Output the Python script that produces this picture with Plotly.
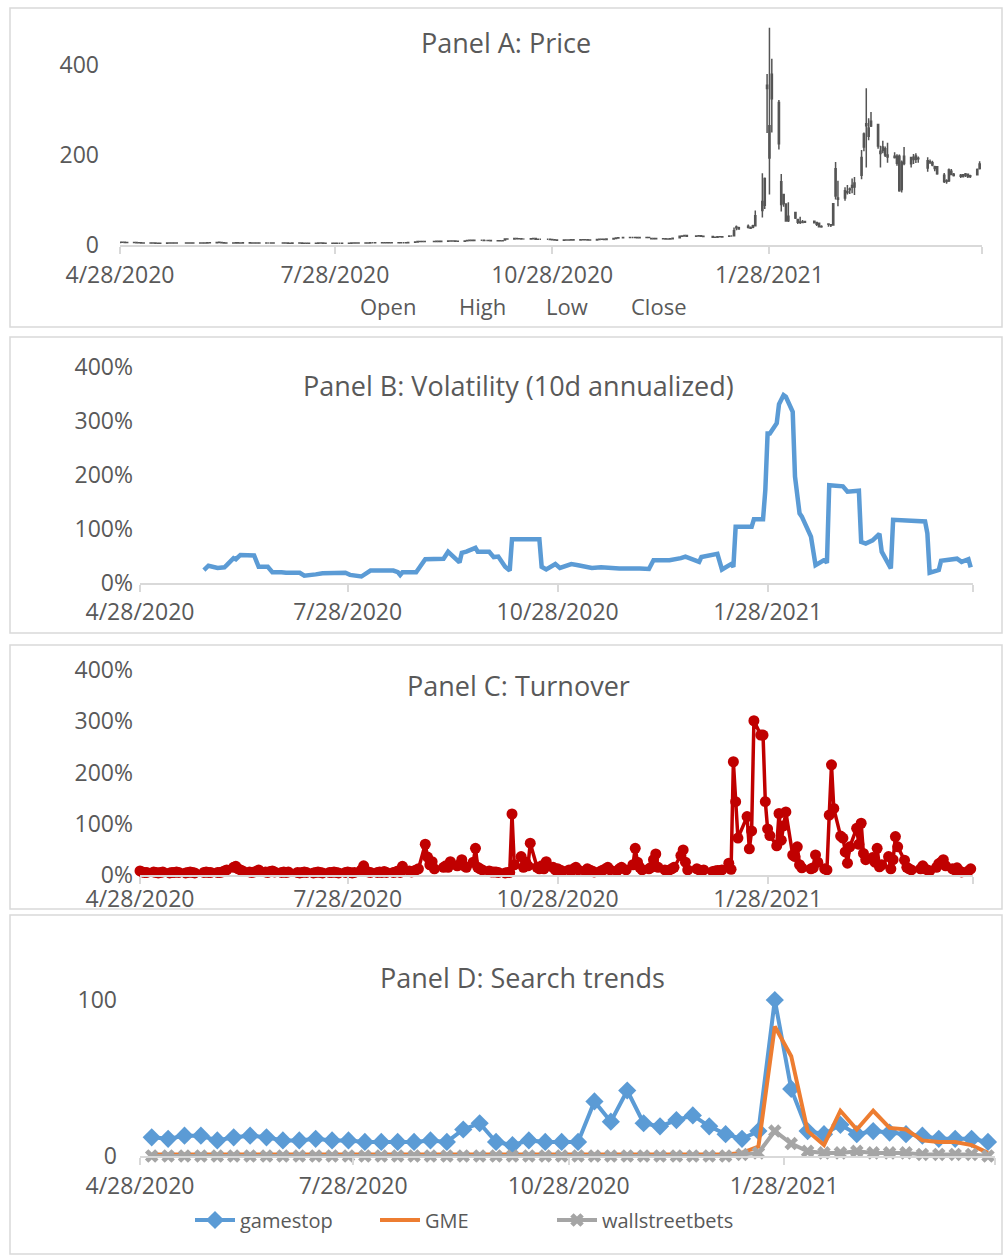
import pandas as pd
import plotly.graph_objects as go

W, H = 1005, 1257
def px(x): return x / W
def py(y): return 1 - y / H

FONT = "Open Sans"
TXT = "#595959"
GRID = "#d9d9d9"

# ---------------- trading days (Panel A / C) ----------------
holidays = ['2020-05-25', '2020-07-03', '2020-09-07', '2020-11-26', '2020-12-25',
            '2021-01-01', '2021-01-18', '2021-02-15', '2021-04-02']
trade_days = [d for d in pd.bdate_range('2020-04-28', '2021-04-27')
              if d.strftime('%Y-%m-%d') not in holidays]

# ---------------- Panel A: GME daily OHLC ----------------
close_2020 = [5.90, 5.93, 5.65,
    5.50, 5.30, 5.20, 4.91, 4.70, 4.55, 4.40, 4.30, 4.00, 4.04, 4.12, 4.36, 4.28, 4.20, 4.30, 4.26, 4.20, 4.30, 4.27, 4.22,
    4.20, 4.30, 4.45, 5.00, 5.20, 5.65, 5.90, 4.85, 4.70, 4.55, 4.58, 4.75, 4.70, 4.60, 4.80, 4.70, 4.55, 4.42, 4.35, 4.30, 4.34, 4.34,
    4.40, 4.35, 4.30, 4.20, 4.10, 4.15, 4.20, 4.30, 4.15, 4.05, 4.08, 4.10, 4.05, 4.20, 4.18, 4.10, 4.08, 4.05, 4.08, 4.12, 4.10, 4.01,
    4.10, 4.25, 4.35, 4.40, 4.45, 4.50, 4.68, 4.80, 4.80, 4.90, 5.00, 4.90, 4.85, 5.10, 5.00, 4.95, 5.05, 5.05, 5.20, 5.50, 6.68,
    7.65, 7.95, 7.80, 7.50, 7.60, 8.10, 8.00, 8.40, 8.70, 9.10, 8.90, 8.40, 8.50, 8.70, 9.96, 10.30, 10.10, 10.40, 10.40, 10.20, 10.20,
    9.90, 9.40, 9.50, 9.30, 9.35, 13.49, 13.30, 14.40, 13.80, 13.90, 13.30, 13.30, 13.70, 14.30, 13.00, 12.70, 12.70, 12.70, 12.00, 11.70, 11.00, 10.70,
    11.00, 11.30, 11.20, 11.40, 11.20, 11.50, 11.60, 11.50, 11.20, 11.00, 12.00, 12.60, 12.50, 12.30, 13.30, 14.20, 15.50, 16.20, 16.90, 16.60,
    16.60, 16.90, 16.00, 16.90, 16.60, 16.90, 13.90, 14.40, 13.70, 13.90, 13.50, 13.20, 13.70, 15.10, 19.40, 20.15, 20.99, 19.70, 20.10, 20.30, 19.38, 18.84]
open_2020 = [5.70, 5.95, 5.90,
    5.60, 5.45, 5.30, 5.15, 4.90, 4.70, 4.55, 4.40, 4.25, 4.00, 4.05, 4.15, 4.35, 4.28, 4.20, 4.30, 4.25, 4.20, 4.30, 4.27,
    4.22, 4.20, 4.30, 4.50, 5.00, 5.25, 5.70, 5.60, 4.85, 4.70, 4.55, 4.60, 4.75, 4.70, 4.60, 4.80, 4.70, 4.55, 4.42, 4.35, 4.30, 4.34,
    4.34, 4.40, 4.35, 4.30, 4.20, 4.10, 4.15, 4.20, 4.30, 4.15, 4.05, 4.08, 4.10, 4.05, 4.20, 4.18, 4.10, 4.08, 4.05, 4.08, 4.12, 4.10,
    4.01, 4.10, 4.25, 4.35, 4.40, 4.45, 4.50, 4.68, 4.80, 4.80, 4.90, 5.00, 4.90, 4.85, 5.10, 5.00, 4.95, 5.05, 5.05, 5.20, 6.00,
    6.70, 7.65, 7.95, 7.80, 7.50, 7.60, 8.10, 8.00, 8.40, 8.70, 9.10, 8.90, 8.40, 8.50, 9.20, 9.96, 10.30, 10.10, 10.40, 10.40, 10.20,
    10.20, 9.90, 9.40, 9.50, 9.30, 10.90, 13.50, 13.30, 14.40, 13.80, 13.90, 13.30, 13.30, 13.70, 14.30, 13.00, 12.70, 12.70, 12.70, 12.00, 11.70, 11.00,
    10.70, 11.00, 11.30, 11.20, 11.40, 11.20, 11.50, 11.60, 11.50, 11.20, 11.00, 12.00, 12.60, 12.50, 12.30, 13.30, 14.20, 15.50, 16.20, 16.90,
    16.60, 16.60, 16.90, 16.00, 16.90, 16.60, 14.50, 13.90, 14.40, 13.70, 13.90, 13.50, 13.20, 13.70, 16.00, 19.40, 20.15, 20.99, 19.70, 20.10, 20.30, 19.38]
high_2020 = [6.05, 6.10, 5.95,
    5.70, 5.50, 5.40, 5.20, 4.95, 4.75, 4.60, 4.45, 4.30, 4.15, 4.20, 4.45, 4.40, 4.32, 4.35, 4.38, 4.30, 4.38, 4.36, 4.32,
    4.30, 4.35, 4.55, 5.10, 5.35, 5.80, 6.00, 5.70, 4.90, 4.75, 4.70, 4.85, 4.80, 4.75, 4.85, 4.85, 4.72, 4.58, 4.48, 4.40, 4.40, 4.40,
    4.48, 4.45, 4.40, 4.35, 4.25, 4.20, 4.25, 4.35, 4.32, 4.18, 4.12, 4.15, 4.14, 4.25, 4.25, 4.20, 4.14, 4.12, 4.12, 4.18, 4.16, 4.14,
    4.18, 4.32, 4.42, 4.48, 4.52, 4.58, 4.75, 4.88, 4.88, 4.98, 5.08, 5.02, 4.95, 5.18, 5.15, 5.05, 5.12, 5.12, 5.30, 5.60, 7.00,
    7.90, 8.20, 8.10, 7.90, 7.80, 8.30, 8.30, 8.50, 8.90, 9.30, 9.20, 8.95, 8.65, 8.85, 10.20, 10.50, 10.40, 10.60, 10.70, 10.50, 10.40,
    10.40, 10.00, 9.80, 9.60, 9.60, 14.80, 14.00, 14.70, 14.50, 14.20, 13.95, 13.60, 13.90, 14.80, 14.40, 13.30, 13.00, 13.00, 12.80, 12.20, 11.80, 11.10,
    11.20, 11.50, 11.50, 11.60, 11.50, 11.80, 11.90, 11.80, 11.60, 11.30, 12.20, 12.90, 12.80, 12.60, 13.60, 14.60, 15.90, 16.60, 17.20, 17.00,
    17.00, 17.20, 17.00, 17.10, 17.10, 17.10, 14.90, 14.70, 14.50, 14.20, 14.00, 13.70, 13.90, 15.40, 20.20, 20.60, 21.30, 21.20, 20.50, 20.60, 20.40, 19.50]
low_2020 = [5.60, 5.75, 5.55,
    5.35, 5.20, 5.10, 4.85, 4.65, 4.50, 4.35, 4.25, 3.95, 3.90, 4.00, 4.10, 4.22, 4.15, 4.15, 4.20, 4.15, 4.15, 4.20, 4.15,
    4.10, 4.15, 4.25, 4.45, 4.90, 5.15, 5.50, 4.70, 4.60, 4.45, 4.45, 4.55, 4.62, 4.55, 4.55, 4.65, 4.50, 4.38, 4.30, 4.22, 4.25, 4.25,
    4.30, 4.30, 4.25, 4.15, 4.05, 4.05, 4.10, 4.15, 4.10, 4.00, 4.00, 4.03, 4.00, 4.02, 4.12, 4.05, 4.02, 4.00, 4.02, 4.05, 4.05, 3.98,
    3.98, 4.06, 4.20, 4.30, 4.36, 4.40, 4.46, 4.62, 4.72, 4.76, 4.86, 4.86, 4.80, 4.82, 4.95, 4.90, 4.92, 4.98, 5.00, 5.15, 5.90,
    6.60, 7.40, 7.55, 7.35, 7.30, 7.50, 7.90, 7.90, 8.30, 8.60, 8.80, 8.30, 8.30, 8.40, 9.10, 9.80, 9.95, 10.00, 10.20, 10.05, 10.00,
    9.80, 9.30, 9.30, 9.20, 9.15, 10.80, 12.90, 13.10, 13.60, 13.50, 13.20, 13.10, 13.20, 13.60, 12.90, 12.60, 12.50, 12.50, 11.90, 11.50, 10.90, 10.50,
    10.50, 10.90, 11.00, 11.10, 11.10, 11.10, 11.40, 11.40, 11.10, 10.90, 10.90, 11.90, 12.30, 12.20, 12.20, 13.20, 14.10, 15.30, 16.00, 16.40,
    16.30, 16.40, 15.80, 15.90, 16.40, 16.40, 13.70, 13.60, 13.50, 13.50, 13.30, 13.00, 13.10, 13.60, 15.90, 19.20, 19.90, 19.50, 19.50, 19.80, 19.20, 18.70]

open_2021 = [19.00, 17.35, 17.34, 18.47, 18.18, 19.41, 19.96, 20.42, 38.09, 38.49, 41.55, 37.37, 39.23, 42.59, 96.73, 88.56, 354.83, 265.00, 379.71,
    316.56, 140.76, 112.01, 91.19, 54.04, 72.41, 56.61, 50.77, 50.01, 50.75, 52.66, 49.77, 48.49, 41.28, 46.69, 44.70, 44.70, 169.56, 104.54,
    104.50, 116.93, 122.51, 128.17, 128.90, 154.89, 217.71, 269.43, 241.64, 275.00, 268.03, 203.16, 217.84, 214.00, 195.73, 197.00, 197.00, 197.00, 123.50, 197.00, 180.50, 195.00, 197.50,
    193.00, 171.00, 185.00, 183.00, 174.00, 174.00, 155.00, 143.00, 143.00, 164.00, 157.00, 155.00, 152.00, 155.00, 157.00, 152.00, 156.00, 170.00]
high_2021 = [19.10, 18.08, 18.98, 19.45, 18.30, 20.65, 20.40, 38.65, 43.06, 40.75, 45.52, 41.19, 44.75, 76.76, 159.18, 150.00, 380.00, 483.00, 413.98,
    322.00, 158.00, 113.40, 91.50, 95.00, 72.66, 57.00, 62.83, 55.32, 52.75, 53.50, 50.96, 48.87, 43.97, 46.69, 46.23, 91.71, 184.68, 142.90,
    128.60, 133.20, 127.75, 147.87, 151.00, 210.87, 249.85, 348.50, 281.50, 295.50, 268.93, 220.70, 231.47, 218.88, 227.00, 206.00, 201.75, 201.00, 187.50, 218.00, 196.00, 202.00, 204.00,
    196.45, 195.00, 190.00, 187.00, 176.00, 175.00, 160.00, 146.00, 170.00, 169.00, 160.00, 158.00, 158.00, 160.00, 159.00, 156.00, 170.00, 186.00]
low_2021 = [17.15, 17.23, 17.33, 18.02, 17.08, 19.01, 19.32, 20.03, 33.05, 34.01, 36.64, 36.06, 37.00, 42.32, 61.13, 80.20, 249.00, 112.25, 250.00,
    212.00, 74.22, 85.25, 53.33, 51.09, 58.02, 46.52, 46.55, 48.22, 49.03, 49.04, 42.31, 40.65, 38.50, 40.55, 40.00, 44.70, 101.00, 86.00,
    98.60, 112.20, 113.12, 115.00, 111.00, 146.11, 208.51, 172.00, 232.60, 262.27, 214.00, 172.35, 204.00, 195.65, 182.66, 192.00, 176.00, 118.50, 116.90, 177.00, 172.00, 180.00, 182.00,
    183.00, 163.00, 180.00, 175.00, 164.00, 156.00, 138.00, 136.00, 140.00, 155.00, 152.00, 149.00, 150.00, 151.00, 149.00, 149.00, 155.00, 168.00]
close_2021 = [17.25, 17.37, 18.36, 18.08, 17.69, 19.94, 19.95, 31.40, 39.91, 35.50, 39.36, 39.12, 43.03, 65.01, 76.79, 147.98, 347.51, 193.60, 325.00,
    225.00, 90.00, 92.41, 53.50, 63.77, 60.00, 50.31, 51.20, 51.10, 52.40, 49.51, 45.94, 40.69, 40.59, 46.00, 44.97, 91.71, 108.73, 101.74,
    120.40, 118.18, 124.18, 132.35, 137.74, 194.50, 246.90, 265.00, 260.00, 264.50, 220.14, 208.17, 209.81, 200.27, 200.27, 194.49, 181.75, 120.34, 183.75, 181.00, 194.46, 189.82, 190.82,
    191.45, 186.95, 184.50, 177.97, 170.26, 158.36, 141.09, 140.99, 166.53, 156.44, 154.69, 153.00, 156.00, 158.00, 152.00, 154.00, 168.00, 180.00]

price_open = open_2020 + open_2021
price_high = high_2020 + high_2021
price_low = low_2020 + low_2021
price_close = close_2020 + close_2021

# ---------------- Panel B: 10-day annualized volatility (%) ----------------
vol_dates = ['2020-05-26', '2020-05-28', '2020-06-01', '2020-06-04', '2020-06-05', '2020-06-08', '2020-06-09', '2020-06-11',
    '2020-06-17', '2020-06-19', '2020-06-23', '2020-06-25', '2020-06-29', '2020-07-01', '2020-07-07', '2020-07-09', '2020-07-14',
    '2020-07-17', '2020-07-27', '2020-07-29', '2020-08-03', '2020-08-07', '2020-08-17', '2020-08-19', '2020-08-20', '2020-08-21',
    '2020-08-27', '2020-08-31', '2020-09-08', '2020-09-10', '2020-09-11', '2020-09-15', '2020-09-16', '2020-09-18', '2020-09-22',
    '2020-09-23', '2020-09-28', '2020-09-30', '2020-10-02', '2020-10-05', '2020-10-07', '2020-10-08', '2020-10-20', '2020-10-21',
    '2020-10-23', '2020-10-27', '2020-10-29', '2020-11-03', '2020-11-06', '2020-11-12', '2020-11-16', '2020-11-24', '2020-12-03',
    '2020-12-07', '2020-12-09', '2020-12-16', '2020-12-21', '2020-12-23', '2020-12-29', '2020-12-30', '2021-01-06', '2021-01-08',
    '2021-01-12', '2021-01-13', '2021-01-14', '2021-01-21', '2021-01-22', '2021-01-26', '2021-01-27', '2021-01-28', '2021-01-29',
    '2021-02-01', '2021-02-02', '2021-02-04', '2021-02-05', '2021-02-08', '2021-02-09', '2021-02-11', '2021-02-12', '2021-02-16',
    '2021-02-18', '2021-02-22', '2021-02-23', '2021-02-24', '2021-03-02', '2021-03-04', '2021-03-09', '2021-03-10', '2021-03-12',
    '2021-03-15', '2021-03-18', '2021-03-19', '2021-03-23', '2021-03-24', '2021-04-07', '2021-04-08', '2021-04-09', '2021-04-13',
    '2021-04-14', '2021-04-21', '2021-04-23', '2021-04-26', '2021-04-27']
vol_pct = [24, 32, 28, 29, 33, 46, 44, 52,
    51, 30, 30, 20, 20, 19, 19, 13.5, 16,
    18, 19, 15, 12, 23, 23, 20, 15, 20,
    20, 44, 45, 58, 54, 38, 56, 58, 65,
    58, 58, 48, 49, 30, 23, 81, 81, 30,
    25, 35, 28, 35, 33, 28, 29, 27, 27,
    26, 42, 42, 46, 49, 39, 48, 54, 25,
    35, 30, 104, 104, 118, 118, 172, 277, 277,
    296, 331, 348, 345, 317, 197, 129, 123, 86,
    33, 43, 37, 181, 179, 169, 171, 76, 73,
    79, 91, 58, 27, 117, 114, 92, 19, 24,
    41, 45, 39, 44, 29]

# ---------------- Panel C: daily turnover (%) ----------------
turnover_pct = ([8, 6, 5] +
    [5, 6, 5, 4, 5, 6, 4, 5, 5, 6, 5, 4, 5, 6, 5, 4, 5, 6, 5, 5] +
    [5, 5, 6, 8, 10, 15, 17, 12, 10, 8, 6, 5, 6, 7, 10, 6, 5, 7, 8, 6, 5, 6] +
    [5, 6, 5, 4, 5, 6, 5, 4, 5, 6, 5, 4, 5, 5, 6, 5, 4, 5, 6, 5, 4, 5] +
    [10, 18, 8, 6, 5, 5, 6, 5, 7, 5, 5, 6, 8, 5, 17, 8, 6, 8, 10, 12, 60] +
    [35, 20, 26, 12, 15, 18, 15, 26, 18, 20, 30, 18, 15, 25, 52, 15, 12, 10, 8, 6, 6] +
    [6, 5, 4, 5, 5, 119, 20, 36, 15, 25, 18, 62, 15, 12, 18, 12, 26, 15, 10, 12, 10, 8] +
    [10, 8, 12, 15, 10, 8, 12, 10, 8, 6, 8, 10, 12, 15, 10, 8, 12, 15, 10, 20] +
    [52, 25, 15, 10, 12, 15, 30, 41, 15, 10, 8, 10, 12, 15, 38, 49, 25, 10, 12, 10, 8, 10] +
    [7, 8, 9, 9, 10, 23, 11, 221, 143, 72, 114, 51, 86, 301, 273, 273, 143, 90, 77] +
    [57, 120, 68, 96, 123, 39, 36, 55, 20, 14, 12, 14, 39, 25, 12, 10, 117, 215, 130] +
    [76, 72, 45, 23, 55, 91, 60, 101, 42, 30, 34, 25, 52, 16, 20, 36, 12, 30, 75, 55, 29, 15, 12] +
    [10, 12, 18, 12, 10, 8, 15, 22, 25, 30, 18, 12, 10, 14, 8, 6, 8, 12])

for name, arr in [('open', price_open), ('high', price_high), ('low', price_low),
                  ('close', price_close), ('turnover', turnover_pct)]:
    if len(arr) != len(trade_days):
        raise ValueError(f"{name}: {len(arr)} values vs {len(trade_days)} days")
if len(vol_dates) != len(vol_pct):
    raise ValueError(f"vol: {len(vol_dates)} dates vs {len(vol_pct)} values")

# ---------------- Panel D: weekly Google search trends ----------------
week_dates = pd.date_range('2020-05-03', periods=52, freq='7D')
search_gamestop = [12, 11, 13, 13, 10, 12, 13, 12, 10, 10, 11, 10, 10, 9, 9, 9, 9, 10, 9, 17,
                   21, 9, 7, 10, 9, 9, 9, 35, 22, 42, 21, 19, 23, 26, 19, 14, 11, 16, 100, 43,
                   16, 14, 20, 14, 16, 15, 14, 13, 11, 11, 11, 9]
search_gme = [1, 1, 1, 1, 1, 1, 1, 1, 1, 1, 1, 1, 1, 1, 1, 1, 1, 1, 1, 1,
              1, 1, 1, 1, 1, 1, 1, 1, 1, 1, 1, 1, 1, 1, 1, 1, 2, 6, 83, 64,
              16, 7, 29, 17, 29, 18, 17, 10, 9, 9, 7, 2]
search_wsb = [0, 0, 0, 0, 0, 0, 0, 0, 0, 0, 0, 0, 0, 0, 0, 0, 0, 0, 0, 0,
              0, 0, 0, 0, 0, 0, 0, 0, 0, 0, 0, 0, 0, 0, 0, 0, 1, 2, 16, 8,
              3, 2, 2, 3, 2, 2, 2, 1, 1, 1, 1, 0]

tick_dates = ['2020-04-28', '2020-07-28', '2020-10-28', '2021-01-28', '2021-04-28']
tick_labels = ['4/28/2020', '7/28/2020', '10/28/2020', '1/28/2021', '']
x_range = ['2020-04-28', '2021-04-28']

fig = go.Figure()

dark = '#555555'
fig.add_trace(go.Candlestick(
    x=trade_days, open=price_open, high=price_high, low=price_low, close=price_close,
    increasing=dict(line=dict(color=dark, width=1.5), fillcolor=dark),
    decreasing=dict(line=dict(color=dark, width=1.5), fillcolor=dark),
    whiskerwidth=0, showlegend=False, xaxis='x', yaxis='y', name='GME'))

fig.add_trace(go.Scatter(x=vol_dates, y=vol_pct, mode='lines',
    line=dict(color='#5b9bd5', width=4.5), showlegend=False, xaxis='x2', yaxis='y2'))

fig.add_trace(go.Scatter(x=trade_days, y=turnover_pct, mode='lines+markers',
    line=dict(color='#c00000', width=3.5), marker=dict(color='#c00000', size=11),
    showlegend=False, xaxis='x3', yaxis='y3', cliponaxis=False))

fig.add_trace(go.Scatter(x=week_dates, y=search_gamestop, mode='lines+markers', name='gamestop',
    line=dict(color='#5b9bd5', width=4), marker=dict(symbol='diamond', size=14, color='#5b9bd5'),
    xaxis='x4', yaxis='y4', cliponaxis=False, legend='legend'))
fig.add_trace(go.Scatter(x=week_dates, y=search_gme, mode='lines', name='GME',
    line=dict(color='#ed7d31', width=4), xaxis='x4', yaxis='y4', cliponaxis=False, legend='legend2'))
fig.add_trace(go.Scatter(x=week_dates, y=search_wsb, mode='lines+markers', name='wallstreetbets',
    line=dict(color='#a5a5a5', width=4), marker=dict(symbol='x', size=12, color='#a5a5a5'),
    xaxis='x4', yaxis='y4', cliponaxis=False, legend='legend3'))

tickfont = dict(family=FONT, size=23, color=TXT)

def xax(dom, anchor, standoff):
    return dict(domain=[px(dom[0]), px(dom[1])], anchor=anchor, type='date', range=x_range,
                tickmode='array', tickvals=tick_dates, ticktext=tick_labels,
                showline=True, linecolor=GRID, linewidth=1.5, ticks='outside', ticklen=7,
                tickcolor=GRID, tickwidth=1.5, showgrid=False, zeroline=False,
                tickfont=tickfont, ticklabelstandoff=standoff, fixedrange=True, automargin=False)

def yax(top, bottom, anchor, rng, vals, texts, standoff):
    return dict(domain=[py(bottom), py(top)], anchor=anchor, range=rng,
                tickmode='array', tickvals=vals, ticktext=texts,
                showline=False, showgrid=False, zeroline=False, ticks='',
                tickfont=tickfont, ticklabelstandoff=standoff, fixedrange=True, automargin=False)

def leg(xpix):
    return dict(orientation='h', x=px(xpix), y=py(1220), xanchor='left', yanchor='middle',
                font=dict(family=FONT, size=20, color=TXT), itemwidth=40,
                bgcolor='rgba(0,0,0,0)', borderwidth=0)

pct_vals = [0, 100, 200, 300, 400]
pct_text = ['0%', '100%', '200%', '300%', '400%']

fig.update_layout(
    template='none',
    width=W, height=H, autosize=False,
    margin=dict(l=0, r=0, t=0, b=0, pad=0),
    paper_bgcolor='white', plot_bgcolor='white',
    font=dict(family=FONT, color=TXT),
    xaxis=dict(**xax((120, 982), 'y', 2), rangeslider=dict(visible=False)),
    yaxis=yax(20, 245, 'x', [0, 500], [0, 200, 400], ['0', '200', '400'], 20),
    xaxis2=xax((140, 973), 'y2', 1),
    yaxis2=yax(367, 583, 'x2', [0, 400], pct_vals, pct_text, 6),
    xaxis3=xax((140, 973), 'y3', -4),
    yaxis3=yax(670, 875, 'x3', [0, 400], pct_vals, pct_text, 6),
    xaxis4=xax((140, 995), 'y4', 2),
    yaxis4=yax(1000, 1156, 'x4', [0, 100], [0, 100], ['0', '100'], 22),
    showlegend=True,
    legend=leg(190), legend2=leg(375), legend3=leg(552),
)

# panel borders
for (x0, y0, x1, y1) in [(10, 8, 1002, 327), (10, 337, 1002, 633), (10, 645, 1002, 909), (10, 915, 1002, 1254)]:
    fig.add_shape(type='rect', xref='paper', yref='paper', x0=px(x0), x1=px(x1), y0=py(y1), y1=py(y0),
                  line=dict(color=GRID, width=1.5), fillcolor='rgba(0,0,0,0)', layer='below')

titles = [("Panel A: Price", 506, 42), ("Panel B: Volatility (10d annualized)", 518, 385),
          ("Panel C: Turnover", 518, 685), ("Panel D: Search trends", 522, 977)]
for text, x, y in titles:
    fig.add_annotation(text=text, xref='paper', yref='paper', x=px(x), y=py(y),
                       xanchor='center', yanchor='middle', showarrow=False,
                       font=dict(family=FONT, size=27, color=TXT))

for text, x in [("Open", 388), ("High", 482), ("Low", 567), ("Close", 658)]:
    fig.add_annotation(text=text, xref='paper', yref='paper', x=px(x), y=py(306),
                       xanchor='center', yanchor='middle', showarrow=False,
                       font=dict(family=FONT, size=22, color=TXT))

fig.write_html("out.html", config={'displayModeBar': False},
               post_script="document.body.style.margin='0px';")
